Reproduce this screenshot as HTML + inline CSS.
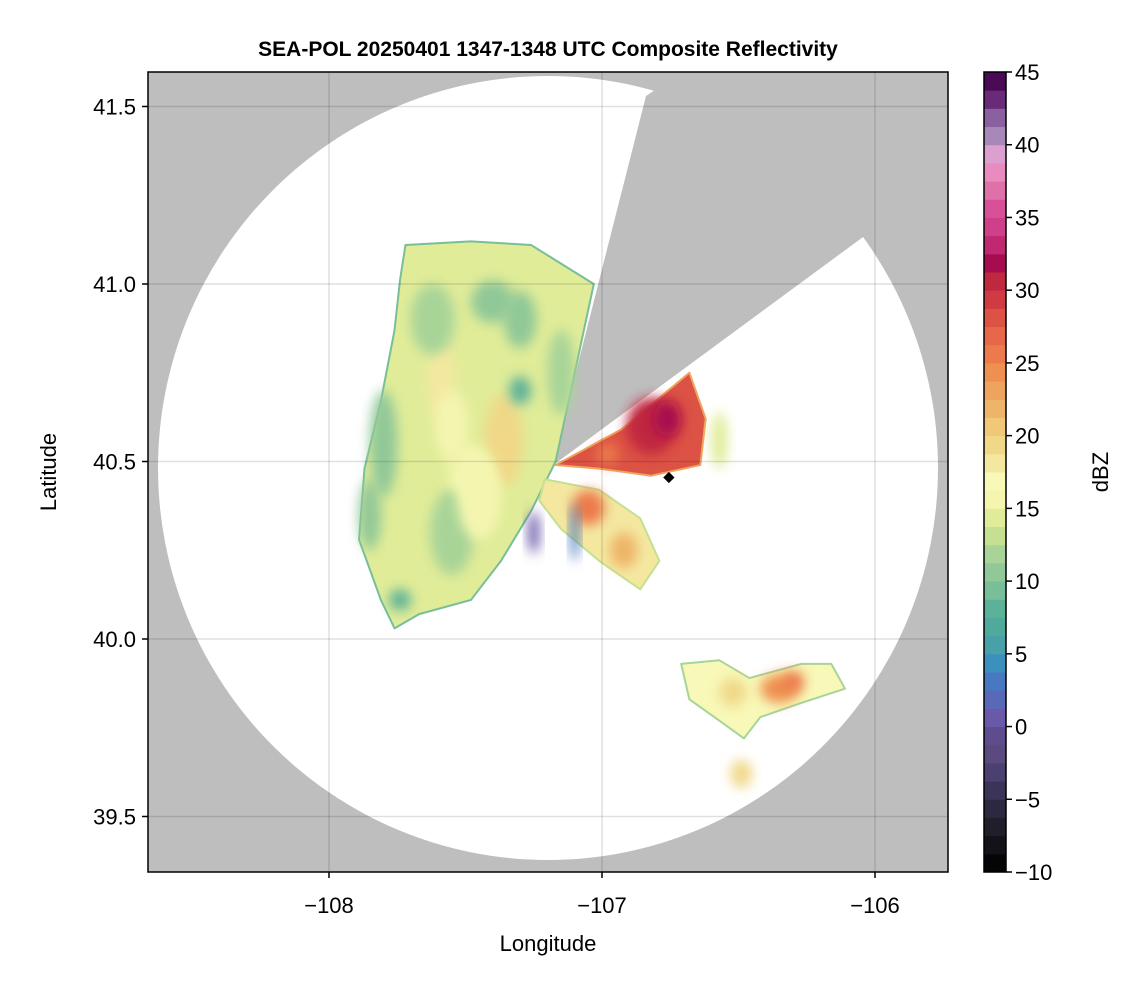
<!DOCTYPE html>
<html><head><meta charset="utf-8">
<style>
body{margin:0;background:#fff;}
svg text{font-family:"Liberation Sans",sans-serif;}
</style></head>
<body>
<svg id="chart" width="1146" height="990" viewBox="0 0 1146 990">
<defs>
  <clipPath id="plotclip"><rect x="148" y="72" width="800" height="800"/></clipPath>
  <filter id="soft" x="-50%" y="-50%" width="200%" height="200%"><feGaussianBlur stdDeviation="6"/></filter>
</defs>
<text x="548" y="56" text-anchor="middle" font-size="21" font-weight="bold">SEA-POL 20250401 1347-1348 UTC Composite Reflectivity</text>
<g clip-path="url(#plotclip)">
  <rect x="148" y="72" width="800" height="800" fill="#bebebe"/>
  <ellipse cx="548" cy="468" rx="390" ry="392" fill="#fff"/>
  <polygon points="552,466 646,96 700,60 948,60 948,173 859,240" fill="#bebebe"/>
  <g id="echoes"></g>
  <g id="grid"></g>
</g>
<rect x="148" y="72" width="800" height="800" fill="none" stroke="#000" stroke-width="1.5"/>
<g id="axes"></g>
<g id="cbar"></g>
<text x="548" y="951" text-anchor="middle" font-size="22">Longitude</text>
<text x="56" y="472" text-anchor="middle" font-size="22" transform="rotate(-90 56 472)">Latitude</text>
<text x="1108" y="472" text-anchor="middle" font-size="22" transform="rotate(-90 1108 472)">dBZ</text>
</svg>
<script>
const xTicks = [-108, -107, -106];
const yTicks = [39.5, 40.0, 40.5, 41.0, 41.5];
const cTicks = [-10, -5, 0, 5, 10, 15, 20, 25, 30, 35, 40, 45];
const cColors = ["#050508","#141218","#201e2a","#2c2840","#3c3458","#4c4070","#5a4a80","#5e4c8c","#6a58a8","#5a68b8","#4878c0","#3c90bc","#48a0a8","#4faa9c","#5cb298","#78be98","#90c898","#a8d498","#c4e090","#e0ec98","#f4f6b0","#f8f8b8","#f4e8a0","#f0d888","#f0c878","#eeb468","#eea45c","#ee9050","#ec7a4c","#e66848","#dc5244","#d03a42","#c02840","#a80c50","#c02870","#d0408a","#d85098","#e070a8","#e88cc0","#dca0d0","#a888b8","#8a60a0","#6a2a7a","#4a0a55"];
const westLon = [-107.72,-107.48,-107.26,-107.03,-107.17,-107.26,-107.37,-107.48,-107.67,-107.76,-107.81,-107.89,-107.87,-107.81,-107.76,-107.74];
const westLat = [41.11,41.12,41.11,41.00,40.50,40.36,40.22,40.11,40.07,40.03,40.11,40.28,40.48,40.67,40.87,41.01];
const eastLon = [-107.17,-106.93,-106.68,-106.62,-106.64,-106.82,-107.01];
const eastLat = [40.49,40.59,40.75,40.62,40.49,40.46,40.48];
const southLon = [-107.21,-107.01,-106.86,-106.79,-106.86,-107.01,-107.15,-107.23];
const southLat = [40.45,40.42,40.34,40.22,40.14,40.22,40.31,40.39];
const seLon = [-106.71,-106.57,-106.46,-106.27,-106.16,-106.11,-106.27,-106.42,-106.48,-106.57,-106.68];
const seLat = [39.93,39.94,39.89,39.93,39.93,39.86,39.82,39.78,39.72,39.77,39.83];
const polyVals = [14.5, 28.5, 18, 16.5];
const blobLon = [-107.36,-107.59,-107.30,-107.74,-107.48,-107.62,-107.80,-106.82,-106.76,-106.98,-107.05,-106.57,-106.35,-106.30,-106.52,-106.49,-107.10,-107.25,-107.55,-107.40,-106.92,-107.45,-107.55,-107.85,-107.15,-107.30];
const blobLat = [40.56,40.73,40.70,40.11,40.45,40.90,40.55,40.60,40.62,40.52,40.37,40.56,39.86,39.88,39.85,39.62,40.30,40.30,40.30,40.95,40.25,40.40,40.60,40.35,40.75,40.90];
const blobVal = [19,18,8,8,16,12,11,30,32,25,25,14,24,26,19,19,3,1,12,11,22,16,16,11,12,11];
const blobRx = [0.07,0.05,0.04,0.04,0.08,0.08,0.05,0.09,0.05,0.04,0.06,0.03,0.07,0.04,0.05,0.04,0.015,0.02,0.08,0.08,0.05,0.08,0.06,0.04,0.05,0.06];
const blobRy = [0.13,0.12,0.04,0.03,0.10,0.10,0.15,0.08,0.05,0.03,0.05,0.08,0.04,0.03,0.04,0.04,0.08,0.06,0.12,0.06,0.05,0.12,0.10,0.10,0.12,0.08];

const NS='http://www.w3.org/2000/svg';
const xs = v => 329 + (v + 108) * 273;
const ys = v => 639 - (v - 40) * 355;
const cy = v => 872 - (v + 10) / 55 * 800;
function color(v){let i=Math.floor((v+10)/55*cColors.length);i=Math.max(0,Math.min(cColors.length-1,i));return cColors[i];}
function mk(tag, attrs, parent){const e=document.createElementNS(NS,tag);for(const k in attrs)e.setAttribute(k,attrs[k]);parent.appendChild(e);return e;}

const echoes=document.getElementById('echoes');
const polys=[[westLon,westLat],[eastLon,eastLat],[southLon,southLat],[seLon,seLat]];
const pnames=['west-echo-region','east-echo-region','south-echo-region','southeast-echo-region'];
polys.forEach((p,i)=>{
  const pts=p[0].map((lo,j)=>xs(lo)+','+ys(p[1][j])).join(' ');
  const el=mk('polygon',{points:pts,fill:color(polyVals[i]),stroke:color(polyVals[i]-5),'stroke-width':2,'stroke-linejoin':'round'},echoes);
  
  
});
blobLon.forEach((lo,i)=>{
  const el=mk('ellipse',{cx:xs(lo),cy:ys(blobLat[i]),rx:blobRx[i]*273,ry:blobRy[i]*355,fill:color(blobVal[i]),filter:'url(#soft)'},echoes);
  
  
});
mk('rect',{x:xs(-106.755)-4,y:ys(40.455)-4,width:8,height:8,fill:'#000',transform:`rotate(45 ${xs(-106.755)} ${ys(40.455)})`},echoes);

const grid=document.getElementById('grid');
xTicks.forEach(t=>{mk('line',{x1:xs(t),x2:xs(t),y1:72,y2:872,stroke:'#000','stroke-opacity':0.12,'stroke-width':1.5},grid);});
yTicks.forEach(t=>{mk('line',{x1:148,x2:948,y1:ys(t),y2:ys(t),stroke:'#000','stroke-opacity':0.12,'stroke-width':1.5},grid);});

const axes=document.getElementById('axes');
xTicks.forEach(t=>{
  mk('line',{x1:xs(t),x2:xs(t),y1:872,y2:878,stroke:'#000','stroke-width':1.5},axes);
  const tx=mk('text',{x:xs(t),y:913,'text-anchor':'middle','font-size':22},axes);
  tx.textContent=String(t).replace('-','\u2212');
  
  
});
yTicks.forEach(t=>{
  mk('line',{x1:142,x2:148,y1:ys(t),y2:ys(t),stroke:'#000','stroke-width':1.5},axes);
  const tx=mk('text',{x:136,y:ys(t)+8,'text-anchor':'end','font-size':22},axes);
  tx.textContent=t.toFixed(1);
  
  
});

const cbar=document.getElementById('cbar');
const n=cColors.length;
cColors.forEach((c,i)=>{
  const v0=-10+55*i/n, v1=-10+55*(i+1)/n;
  const r=mk('rect',{x:984,y:cy(v1),width:22,height:cy(v0)-cy(v1)+0.5,fill:c},cbar);
  
  
});
mk('rect',{x:984,y:72,width:22,height:800,fill:'none',stroke:'#000','stroke-width':1.5},cbar);
cTicks.forEach(t=>{
  mk('line',{x1:1006,x2:1012,y1:cy(t),y2:cy(t),stroke:'#000','stroke-width':1.5},cbar);
  const tx=mk('text',{x:1015,y:cy(t)+8,'font-size':22},cbar);
  tx.textContent=String(t).replace('-','\u2212');
  
  
});
</script>
</body></html>
